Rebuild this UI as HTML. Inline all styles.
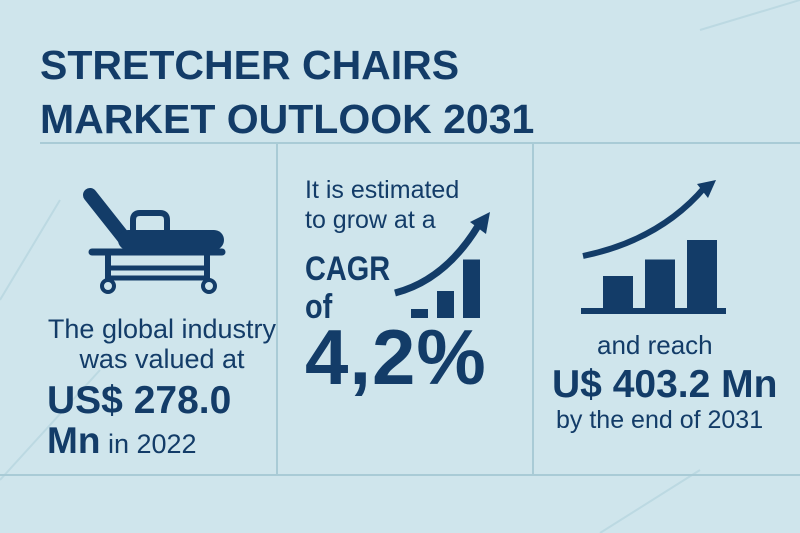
<!DOCTYPE html>
<html><head><meta charset="utf-8"><style>
body{margin:0;width:800px;height:533px;overflow:hidden;background:#cfe5ec;font-family:"Liberation Sans",sans-serif;color:#133c68;position:relative}
.t{position:absolute;white-space:nowrap;line-height:1}
.b{font-weight:bold}
</style></head><body>
<svg width="800" height="533" style="position:absolute;left:0;top:0">
<rect width="800" height="533" fill="#cfe5ec"/>
<g stroke="#bcd9e2" stroke-width="2" fill="none">
<line x1="0" y1="300" x2="60" y2="200"/><line x1="0" y1="480" x2="100" y2="370"/>
<line x1="700" y1="30" x2="800" y2="0"/><line x1="600" y1="533" x2="700" y2="470"/>
</g>
<g stroke="#a9cbd6" stroke-width="2">
<line x1="40" y1="143" x2="800" y2="143"/>
<line x1="277" y1="143" x2="277" y2="475"/>
<line x1="533" y1="143" x2="533" y2="475"/>
<line x1="0" y1="475" x2="800" y2="475"/>
</g>
<g fill="#133c68" stroke="#133c68">
<line x1="90" y1="195" x2="128" y2="243" stroke-width="14" stroke-linecap="round"/>
<rect x="118" y="230" width="106" height="20" rx="10" stroke="none"/>
<path d="M133 232 v-12 q0-7 7-7 h20 q7 0 7 7 v12" fill="none" stroke-width="6"/>
<line x1="92" y1="252" x2="222" y2="252" stroke-width="7" stroke-linecap="round"/>
<line x1="108" y1="252" x2="108" y2="280" stroke-width="6"/>
<line x1="207" y1="252" x2="207" y2="280" stroke-width="6"/>
<line x1="108" y1="268" x2="207" y2="268" stroke-width="5"/>
<line x1="108" y1="278" x2="207" y2="278" stroke-width="5"/>
<circle cx="108" cy="286" r="6" fill="none" stroke-width="4"/>
<circle cx="209" cy="286" r="6" fill="none" stroke-width="4"/>
</g>
<g id="chart1"></g>
<g id="chart2"></g>
<path d="M395 293 Q445 280 478 226" fill="none" stroke="#133c68" stroke-width="7"/>
<polygon points="490,212 470,222 486,234" fill="#133c68"/>
<path d="M583 256 Q660 240 705 187" fill="none" stroke="#133c68" stroke-width="6"/>
<polygon points="716,180 697,184 708,198" fill="#133c68"/>
<line x1="581" y1="311" x2="726" y2="311" stroke="#133c68" stroke-width="6"/>
</svg>
<div class="t" style="left:40px;top:38px;font-size:41px;font-weight:bold;letter-spacing:0px;line-height:54px">STRETCHER CHAIRS<br>MARKET OUTLOOK 2031</div>
<div class="t" style="left:42px;top:314px;font-size:27px;line-height:30px;text-align:center;width:240px">The global industry<br>was valued at</div>
<div class="t b" style="left:47px;top:381px;font-size:39px">US$ 278.0</div>
<div class="t" style="left:47px;top:422px;font-size:27px"><b style="font-size:37px">Mn</b> in 2022</div>
<div class="t" style="left:305px;top:175px;font-size:25px;line-height:30px">It is estimated<br>to grow at a</div>
<div class="t b" style="left:305px;top:250px;font-size:34px;line-height:38px;transform:scaleX(0.85);transform-origin:left">CAGR<br>of</div>
<div class="t b" style="left:305px;top:318px;font-size:78px;letter-spacing:1px">4,2%</div>
<div class="t" style="left:597px;top:332px;font-size:26px">and reach</div>
<div class="t b" style="left:552px;top:365px;font-size:39px">U$ 403.2 Mn</div>
<div class="t" style="left:556px;top:408px;font-size:25px">by the end of 2031</div>
<script>
const cagrBars=[1,3,6.5];
const growthBars=[2.2,3.3,4.6];
const NS="http://www.w3.org/2000/svg";
function draw(id,vals,x0,w,gap,base,scale){
  const g=document.getElementById(id);
  vals.forEach((v,i)=>{
    const r=document.createElementNS(NS,'rect');
    
    
    r.setAttribute('x',x0+i*(w+gap));r.setAttribute('y',base-v*scale);
    r.setAttribute('width',w);r.setAttribute('height',v*scale);
    r.setAttribute('fill','#133c68');g.appendChild(r);
  });
}
draw('chart1',cagrBars,411,17,9,318,9);
draw('chart2',growthBars,603,30,12,309,15);
</script>
</body></html>
